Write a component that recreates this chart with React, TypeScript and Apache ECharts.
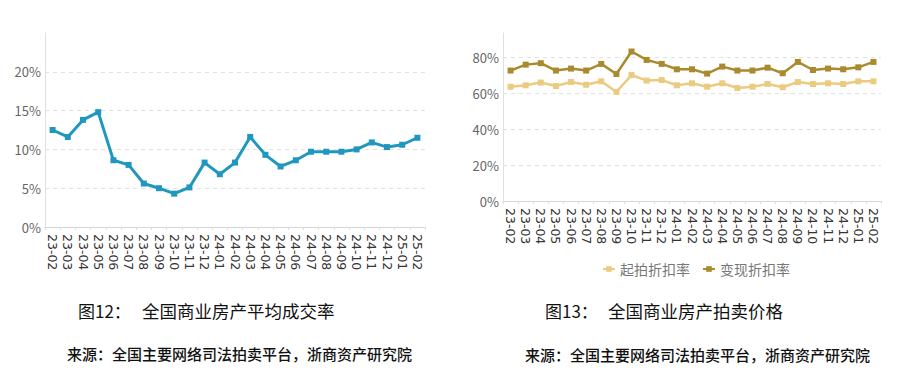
import React, { useEffect, useRef } from "react";
import * as echarts from "echarts";

const months = [
  "23-02", "23-03", "23-04", "23-05", "23-06", "23-07", "23-08", "23-09", "23-10", "23-11", "23-12",
  "24-01", "24-02", "24-03", "24-04", "24-05", "24-06", "24-07", "24-08", "24-09", "24-10", "24-11", "24-12",
  "25-01", "25-02",
];

const dealRate = [
  12.5, 11.6, 13.8, 14.8, 8.6, 8.0, 5.6, 5.0, 4.3, 5.1, 8.3, 6.8, 8.3, 11.6, 9.3, 7.8, 8.6, 9.7, 9.7, 9.7,
  10.0, 10.9, 10.3, 10.6, 11.5,
];

const startDiscount = [
  63.6, 64.4, 65.9, 64.0, 66.2, 64.7, 66.6, 60.7, 70.1, 67.0, 67.3, 64.4, 65.5, 63.6, 65.5, 62.9, 63.6,
  65.1, 63.3, 66.2, 65.1, 65.5, 65.1, 66.6, 66.6,
];

const realizedDiscount = [
  72.6, 75.9, 76.7, 72.6, 73.7, 72.6, 76.3, 70.7, 83.2, 78.5, 76.3, 73.3, 73.3, 70.9, 74.8, 72.6, 72.6,
  74.2, 71.1, 77.4, 72.9, 73.7, 73.3, 74.4, 77.4,
];

const leftYTicks = [0, 5, 10, 15, 20];
const rightYTicks = [0, 20, 40, 60, 80];

const caption1No = "图12：";
const caption1 = "全国商业房产平均成交率";
const caption2No = "图13：";
const caption2 = "全国商业房产拍卖价格";
const source = "来源：全国主要网络司法拍卖平台，浙商资产研究院";

const FONT = "'Noto Sans CJK SC', 'Noto Sans', sans-serif";

export default function App() {
  const ref = useRef<HTMLDivElement>(null);

  useEffect(() => {
    if (!ref.current) return;
    const chart = echarts.init(ref.current, undefined, { renderer: "svg" });

    const xAxisCommon = (gridIndex: number) => ({
      type: "category" as const,
      gridIndex,
      data: months,
      boundaryGap: true,
      axisLine: { lineStyle: { color: "#d6d6d6", width: 1 } },
      axisTick: { show: true, length: 3, lineStyle: { color: "#dddddd" } },
      axisLabel: {
        rotate: -90,
        interval: 0,
        margin: 7,
        color: "#333",
        fontSize: 12.5,
        fontFamily: "'DejaVu Sans', sans-serif",
      },
    });

    const yAxisCommon = (gridIndex: number, max: number, interval: number, ticks: number[]) => ({
      type: "value" as const,
      gridIndex,
      min: 0,
      max,
      interval,
      axisLine: { show: true, lineStyle: { color: "#e0e0e0", width: 1 } },
      axisTick: { show: false },
      axisLabel: {
        margin: 4,
        color: "#666",
        fontSize: 13,
        fontFamily: FONT,
        formatter: (v: number) => (ticks.indexOf(Math.round(v * 1000) / 1000) >= 0 ? v + "%" : ""),
      },
      splitLine: {
        show: true,
        showMaxLine: false,
        lineStyle: { color: "#e2e2e2", type: [4, 4] as any, width: 1 },
      },
    });

    const captionText = (x: number, y: number, text: string, size: number, weight = "normal") => ({
      type: "text" as const,
      x,
      y,
      style: {
        text,
        fill: "#111",
        font: `${weight} ${size}px ${FONT}`,
        textVerticalAlign: "middle",
      },
    });

    chart.setOption({
      animation: false,
      backgroundColor: "#ffffff",
      grid: [
        { left: 45, top: 33, width: 380, height: 194 },
        { left: 503, top: 33, width: 378, height: 168 },
      ],
      xAxis: [xAxisCommon(0), xAxisCommon(1)],
      yAxis: [
        yAxisCommon(0, 25, 5, leftYTicks),
        yAxisCommon(1, 93.5, 20, rightYTicks),
      ],
      legend: {
        data: ["起拍折扣率", "变现折扣率"],
        left: 597,
        top: 257,
        itemWidth: 12,
        itemHeight: 7,
        itemGap: 12,
        textStyle: { color: "#777", fontSize: 14, fontFamily: FONT },
      },
      series: [
        {
          name: "平均成交率",
          type: "line",
          xAxisIndex: 0,
          yAxisIndex: 0,
          data: dealRate,
          symbol: "rect",
          symbolSize: 6,
          lineStyle: { color: "#2097BE", width: 3 },
          itemStyle: { color: "#2097BE" },
        },
        {
          name: "起拍折扣率",
          type: "line",
          xAxisIndex: 1,
          yAxisIndex: 1,
          data: startDiscount,
          symbol: "rect",
          symbolSize: 6,
          lineStyle: { color: "#EBCB80", width: 2.5 },
          itemStyle: { color: "#EBCB80" },
        },
        {
          name: "变现折扣率",
          type: "line",
          xAxisIndex: 1,
          yAxisIndex: 1,
          data: realizedDiscount,
          symbol: "rect",
          symbolSize: 6,
          lineStyle: { color: "#A98A2D", width: 2.5 },
          itemStyle: { color: "#A98A2D" },
        },
      ],
      graphic: [
        captionText(78, 310, caption1No, 17),
        captionText(142, 310, caption1, 17.5),
        captionText(545, 310, caption2No, 17),
        captionText(608, 310, caption2, 17.5),
        captionText(67, 353, source, 15, "500"),
        captionText(525, 354, source, 15, "500"),
      ],
    });

    return () => chart.dispose();
  }, []);

  return (
    <div
      ref={ref}
      style={{ position: "fixed", left: 0, top: 0, width: 900, height: 376, background: "#fff" }}
    />
  );
}
